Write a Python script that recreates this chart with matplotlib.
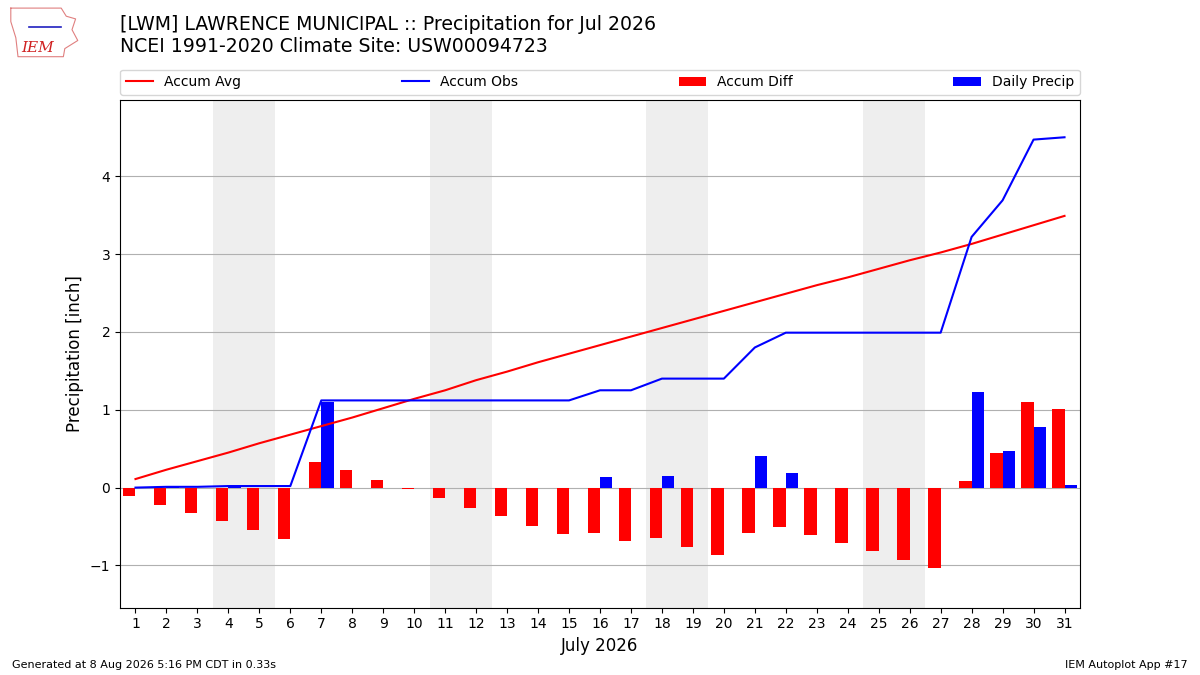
"""IEM autoplot #17 style: monthly precipitation accumulation for LWM"""

import numpy as np
import matplotlib
matplotlib.use("Agg")
import matplotlib.pyplot as plt

# Данные с картинки (дюймы)
days = list(range(1, 32))
daily_precip = [0.00, 0.01, 0.00, 0.01, 0.00, 0.00, 1.10, 0.00, 0.00, 0.00,
                0.00, 0.00, 0.00, 0.00, 0.00, 0.13, 0.00, 0.15, 0.00, 0.00,
                0.40, 0.19, 0.00, 0.00, 0.00, 0.00, 0.00, 1.23, 0.47, 0.78,
                0.03]
accum_avg = [0.11, 0.23, 0.34, 0.45, 0.57, 0.68, 0.79, 0.90, 1.02, 1.14,
             1.25, 1.38, 1.49, 1.61, 1.72, 1.83, 1.94, 2.05, 2.16, 2.27,
             2.38, 2.49, 2.60, 2.70, 2.81, 2.92, 3.02, 3.13, 3.25, 3.37,
             3.49]
weekends = [(4, 5), (11, 12), (18, 19), (25, 26)]

title = "[LWM] LAWRENCE MUNICIPAL :: Precipitation for Jul 2026\nNCEI 1991-2020 Climate Site: USW00094723"

accum_obs = np.cumsum(daily_precip)
accum_diff = accum_obs - np.array(accum_avg)

fig = plt.figure(figsize=(12, 6.75), dpi=100)
ax = fig.add_axes([0.1, 0.1, 0.8, 0.752])

# Выходные - серые полосы
for d0, d1 in weekends:
    ax.axvspan(d0 - 0.5, d1 + 0.5, color="#eeeeee", zorder=0, lw=0)

ax.plot(days, accum_avg, color="r", lw=1.5, label="Accum Avg", zorder=3)
ax.plot(days, accum_obs, color="b", lw=1.5, label="Accum Obs", zorder=3)
ax.bar(np.array(days) - 0.4, accum_diff, width=0.4, align="edge",
       color="r", label="Accum Diff", zorder=2)
ax.bar(days, daily_precip, width=0.4, align="edge",
       color="b", label="Daily Precip", zorder=2)

ax.set_xlim(0.5, 31.5)
ax.set_ylim(-1.54, 4.98)
ax.set_xticks(days)
ax.set_yticks([-1, 0, 1, 2, 3, 4])
ax.set_yticklabels(["\u22121", "0", "1", "2", "3", "4"])
ax.grid(True, axis="y", color="#b0b0b0", lw=0.8, zorder=1)
ax.set_axisbelow(True)
ax.set_ylabel("Precipitation [inch]", fontsize=12)
ax.set_xlabel("July 2026", fontsize=12)

ax.legend(bbox_to_anchor=(0, 1.01, 1, 0.06), loc="lower left", ncol=4,
          mode="expand", borderaxespad=0, fontsize=10)

fig.text(0.1, 0.947, title, fontsize=13.6, va="center", ha="left")
fig.text(0.01, 0.01, "Generated at 8 Aug 2026 5:16 PM CDT in 0.33s", fontsize=8)
fig.text(0.99, 0.01, "IEM Autoplot App #17", fontsize=8, ha="right")

# Логотип IEM (упрощённо)
lax = fig.add_axes([0.006, 0.912, 0.06, 0.08])
lax.axis("off")
lax.set_xlim(0, 1)
lax.set_ylim(0, 1)
lax.plot([0.05, 0.75, 0.82, 0.95, 0.9, 0.98, 0.8, 0.78, 0.15, 0.12, 0.05, 0.05],
         [0.95, 0.95, 0.8, 0.75, 0.55, 0.35, 0.2, 0.05, 0.05, 0.4, 0.7, 0.95],
         color="#e08080", lw=0.8)
lax.plot([0.3, 0.75], [0.6, 0.6], color="#2020c0", lw=1.2)
lax.text(0.42, 0.22, "IEM", color="#d02020", fontsize=11, family="DejaVu Serif",
         style="italic", ha="center", va="center")

fig.savefig("out.png", dpi=100)
